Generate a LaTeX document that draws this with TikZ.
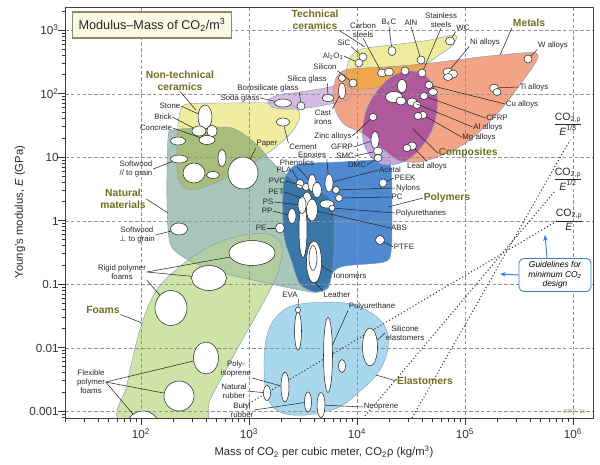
\documentclass[tikz,border=0pt]{standalone}
\usepackage{fontspec}
\usepackage{amsmath}
\setmainfont{Liberation Sans}
\usetikzlibrary{shapes.geometric,arrows.meta}

\definecolor{foamcol}{HTML}{CFE3A6}
\definecolor{natcol}{HTML}{A8C6BA}
\definecolor{foamnatcol}{HTML}{B2CDA0}
\definecolor{ntccol}{HTML}{F1EDA0}
\definecolor{ntcnatcol}{HTML}{A9BD7A}
\definecolor{glasscol}{HTML}{D8B9E2}
\definecolor{polcol}{HTML}{4F89CF}
\definecolor{polnatcol}{HTML}{3A77A8}
\definecolor{elacol}{HTML}{A9D7EE}
\definecolor{tccol}{HTML}{EEEC9C}
\definecolor{metcol}{HTML}{F3A486}
\definecolor{tcmetcol}{HTML}{EFA64C}
\definecolor{compcol}{HTML}{C9A6DA}
\definecolor{compmetcol}{HTML}{B0589C}
\definecolor{rimcol}{HTML}{7B9AC0}
\definecolor{grpcol}{HTML}{6E6F1E}
\definecolor{gblue}{HTML}{3D7CC9}
\definecolor{titleedge}{HTML}{8E8E66}
\definecolor{titlefill}{HTML}{FAFAE4}

\newcommand\foamreg{plot[smooth cycle, tension=0.6] coordinates {(121,422) (127,385) (135,348) (143,320) (151,300) (163,282) (183,264) (205,249) (228,239) (250,234) (272,235) (282,248) (277,275) (262,305) (245,335) (226,370) (210,400) (200,425)}}
\newcommand\natreg{plot[smooth cycle, tension=0.5] coordinates {(168,138) (173,130) (200,128) (232,128) (255,143) (275,165) (298,183) (322,192) (333,205) (334,250) (330,282) (318,292) (300,290) (262,282) (215,271) (185,258) (170,243) (167,200)}}
\newcommand\ntcreg{plot[smooth cycle, tension=0.5] coordinates {(180,112) (188,104) (230,103) (275,103) (294,106) (300,116) (292,132) (272,150) (245,168) (215,183) (190,190) (178,178) (177,140)}}
\newcommand\glassreg{plot[smooth cycle, tension=0.6] coordinates {(268,101) (278,95) (300,92) (325,88) (346,84) (352,92) (346,100) (320,106) (295,109) (275,108)}}
\newcommand\polreg{plot[smooth cycle, tension=0.5] coordinates {(283,190) (288,172) (300,164) (340,162) (384,160) (391,167) (392,215) (391,252) (384,262) (345,266) (333,272) (328,288) (315,292) (300,284) (292,262) (284,235)}}
\newcommand\elareg{plot[smooth cycle, tension=0.6] coordinates {(264,362) (268,332) (280,313) (300,304) (345,303) (373,314) (387,331) (387,353) (377,374) (358,393) (337,408) (306,415) (280,412) (267,396)}}
\newcommand\tcreg{plot[smooth cycle, tension=0.5] coordinates {(346,74) (350,58) (362,49) (400,44) (430,40) (455,35) (453,45) (435,58) (405,80) (375,88) (350,88)}}
\newcommand\metreg{plot[smooth cycle, tension=0.5] coordinates {(333,95) (336,112) (345,125) (362,133) (382,148) (398,160) (420,162) (445,154) (470,140) (498,113) (522,82) (537,60) (536,53) (520,53) (480,57) (440,62) (400,66) (365,68) (345,70) (336,78)}}
\newcommand\compreg{plot[smooth cycle, tension=0.6] coordinates {(421,73) (437,96) (431,132) (407,160) (379,163) (363,140) (369,104) (393,76)}}

\tikzset{
  lbl/.style={font=\fontsize{6.7}{7.6}\selectfont, align=center, inner sep=0.5pt, text=black!85},
  grp/.style={font=\fontsize{8.8}{10}\selectfont\bfseries, align=center, inner sep=0.5pt, text=grpcol},
  bub/.style 2 args={ellipse, draw=black!85, fill=white, line width=0.45pt, inner sep=0pt,
    minimum width=#1*0.3mm, minimum height=#2*0.3mm},
  leader/.style={line width=0.45pt, black!85},
  rim/.style={draw=rimcol, line width=0.35pt},
  gridln/.style={densely dashed, gray!85, line width=0.4pt},
  tk/.style={line width=0.5pt, black!80},
  guideln/.style={dotted, line width=0.9pt, black!80},
  ticklbl/.style={font=\fontsize{10}{12}\selectfont, inner sep=1pt, text=black!80},
  axtitle/.style={font=\fontsize{9.6}{11.5}\selectfont, inner sep=1pt, text=black!85},
  frac/.style={font=\fontsize{9}{10.5}\selectfont, inner sep=0.5pt, text=black!85},
  garrow/.style={-{Stealth[length=5pt, width=4pt]}, gblue, line width=0.8pt},
}

\begin{document}
\begin{tikzpicture}[x=0.3mm, y=-0.3mm]
\useasboundingbox (0,0) rectangle (600,464);

\begin{scope}
\clip (65,7) rectangle (593,418);
\fill[foamcol] \foamreg;
\fill[natcol] \natreg;
\begin{scope} \clip \natreg; \fill[foamnatcol] \foamreg; \end{scope}
\fill[ntccol] \ntcreg;
\begin{scope} \clip \natreg; \fill[ntcnatcol] \ntcreg; \end{scope}
\fill[glasscol] \glassreg;
\fill[polcol] \polreg;
\begin{scope} \clip \natreg; \fill[polnatcol] \polreg; \end{scope}
\fill[elacol] \elareg;
\fill[tccol] \tcreg;
\fill[metcol] \metreg;
\begin{scope} \clip \metreg; \fill[tcmetcol] \tcreg; \end{scope}
\fill[compcol] \compreg;
\begin{scope} \clip \metreg; \fill[compmetcol] \compreg; \end{scope}
\draw[rim] \foamreg;
\draw[rim] \natreg;
\draw[rim] \ntcreg;
\draw[rim] \glassreg;
\draw[rim] \polreg;
\draw[rim] \elareg;
\draw[rim] \tcreg;
\draw[rim] \metreg;
\draw[rim] \compreg;

\foreach \x in {141,249,357,465,573} \draw[gridln] (\x,7) -- (\x,418);
\foreach \y in {30,94,157,221,284,348,411} \draw[gridln] (65,\y) -- (593,\y);

\draw[guideln] (412,418) -- (570,140);
\draw[guideln] (365,416) -- (555,191);
\draw[guideln] (243,407) -- (557,221);

% bubbles
\node[bub={8}{8}] (sic) at (363,57) {};
\node[bub={8}{8}] (alo) at (359,63) {};
\node[bub={8}{8}] (silicon) at (353,83) {};
\node[bub={7}{7}] (sib) at (342,78) {};
\node[bub={7}{16}] (castiron) at (342,91) {};
\node[bub={9}{8}] (cs1) at (382,73) {};
\node[bub={9}{8}] (cs2) at (389,72) {};
\node[bub={8}{9}] (b4c) at (392,51) {};
\node[bub={8}{8}] (tcb) at (405,71) {};
\node[bub={8}{8}] (aln) at (421,60) {};
\node[bub={8}{8}] (ss) at (422,73) {};
\node[bub={9}{8}] (wc) at (450,41) {};
\node[bub={10}{8}] (ni1) at (448,72) {};
\node[bub={9}{8}] (ni2) at (453,74) {};
\node[bub={9}{7}] (ni3) at (448,77) {};
\node[bub={8}{8}] (wal) at (528,59) {};
\node[bub={9}{8}] (ti1) at (494,88) {};
\node[bub={8}{7}] (ti2) at (497,92) {};
\node[bub={8}{7}] (cu1) at (429,85) {};
\node[bub={9}{7}] (cu2) at (433,92) {};
\node[bub={8}{7}] (cfrp) at (424,96) {};
\node[bub={10}{8}] (al1) at (412,102) {};
\node[bub={8}{7}] (al2) at (417,105) {};
\node[bub={8}{7}] (mg1) at (423,115) {};
\node[bub={8}{7}] (mg2) at (418,116) {};
\node[bub={9}{8}] (lead1) at (412,146) {};
\node[bub={8}{7}] (lead2) at (407,148) {};
\node[bub={8}{7}] (zinc) at (373,117) {};
\node[bub={8}{17}] (gfrp) at (375,140) {};
\node[bub={9}{8}] (smc) at (378,151) {};
\node[bub={8}{7}] (dmc) at (378,158) {};
\node[bub={9}{13}] (cp1) at (402,86) {};
\node[bub={17}{11}] (cp2) at (394,97) {};
\node[bub={10}{8}] (cp3) at (401,101) {};
\node[bub={17}{8}] (soda) at (283,103) {};
\node[bub={8}{8}] (boro) at (301,106) {};
\node[bub={12}{7}] (silica) at (328,98) {};
\node[bub={14}{24}] (stone) at (205,117) {};
\node[bub={14}{10}] (brick) at (199,131) {};
\node[bub={10}{12}] (nb2) at (212,131) {};
\node[bub={16}{9}] (concrete) at (207,140) {};
\node[bub={13}{8}] (cement) at (283,122) {};
\node[bub={15}{8}] (nb3) at (178,141) {};
\node[bub={17}{8}] (sw1) at (179,159) {};
\node[bub={22}{20}] (nb4) at (194,173) {};
\node[bub={8}{17}] (nb5) at (222,158) {};
\node[bub={13}{7}] (nb6) at (213,175) {};
\node[bub={30}{32}] (paper) at (243,173) {};
\node[bub={17}{12}] (sw2) at (179,229) {};
\node[bub={8}{9}] (pla) at (300,184) {};
\node[bub={7}{7}] (pvc) at (306,187) {};
\node[bub={8}{17}] (phen) at (312,183) {};
\node[bub={9}{16}] (pet) at (307,200) {};
\node[bub={9}{15}] (pb1) at (317,190) {};
\node[bub={8}{55}] (ptall) at (303,230) {};
\node[bub={8}{17}] (ps) at (302,205) {};
\node[bub={11}{22}] (abs) at (312,210) {};
\node[bub={8}{15}] (pp) at (292,216) {};
\node[bub={9}{10}] (pe) at (280,228) {};
\node[bub={15}{42}] (ion) at (314,262) {};
\node[bub={8}{25}] (ion2) at (313,258) {};
\node[bub={8}{18}] (ep) at (329,183) {};
\node[bub={7}{7}] (nyl) at (336,190) {};
\node[bub={7}{7}] (pc) at (339,198) {};
\node[bub={14}{8}] (pu1) at (327,204) {};
\node[bub={6}{6}] (pu2) at (332,208) {};
\node[bub={8}{8}] (peek) at (383,183) {};
\node[bub={9}{9}] (ptfe) at (380,240) {};
\node[bub={7}{38}] (eva) at (298,331) {};
\node[bub={5}{6}] (evat) at (298,310) {};
\node[bub={9}{75}] (puel) at (328,355) {};
\node[bub={7}{13}] (eb1) at (342,366) {};
\node[bub={15}{38}] (sil) at (370,347) {};
\node[bub={8}{30}] (iso) at (285,387) {};
\node[bub={7}{15}] (nat) at (267,393) {};
\node[bub={7}{20}] (butyl) at (308,402) {};
\node[bub={8}{25}] (neo) at (321,405) {};
\node[bub={46}{25}] (f1) at (252,253) {};
\node[bub={35}{25}] (f2) at (209,278) {};
\node[bub={32}{35}] (f3) at (171,308) {};
\node[bub={25}{32}] (f4) at (206,358) {};
\node[bub={30}{30}] (f5) at (179,396) {};
\node[bub={32}{30}] (f6) at (143,426) {};
\end{scope}

% labels
\node[grp] (tcl) at (315,20) {Technical\\ceramics};
\node[lbl] (csl) at (363,30) {Carbon\\steels};
\node[lbl] (b4cl) at (389,22) {B\textsubscript{4}C};
\node[lbl] (alnl) at (411,23) {AlN};
\node[lbl] (ssl) at (441,20) {Stainless\\steels};
\node[lbl] (wcl) at (463,28) {WC};
\node[grp] (metl) at (529,23) {Metals};
\node[lbl] (nil) at (485,42) {Ni alloys};
\node[lbl] (wl) at (553,45) {W alloys};
\node[lbl] (til) at (534,87) {Ti alloys};
\node[lbl] (cul) at (522,104) {Cu alloys};
\node[lbl] (cfl) at (497,118) {CFRP};
\node[lbl] (all) at (488,127) {Al alloys};
\node[lbl] (mgl) at (479,137) {Mg alloys};
\node[grp] (compl) at (468,153) {Composites};
\node[lbl] (leadl) at (427,166) {Lead alloys};
\node[lbl] (sicl) at (344,43) {SiC};
\node[lbl] (alol) at (333,56) {Al\textsubscript{2}O\textsubscript{3}};
\node[lbl] (silil) at (325,67) {Silicon};
\node[lbl] (silical) at (307,79) {Silica glass};
\node[lbl] (borol) at (268,88) {Borosilicate glass};
\node[lbl] (sodal) at (240,98) {Soda glass};
\node[lbl] (castl) at (323,117) {Cast\\irons};
\node[lbl] (zincl) at (333,136) {Zinc alloys};
\node[lbl] (gfrpl) at (342,147) {GFRP};
\node[lbl] (smcl) at (345,156) {SMC};
\node[lbl] (dmcl) at (357,165) {DMC};
\node[lbl] (epl) at (312,155) {Epoxies};
\node[lbl] (phl) at (297,163) {Phenolics};
\node[lbl] (plal) at (284,170) {PLA};
\node[lbl] (pvcl) at (277,181) {PVC};
\node[lbl] (petl) at (276,192) {PET};
\node[lbl] (psl) at (268,202) {PS};
\node[lbl] (ppl) at (267,211) {PP};
\node[lbl] (pel) at (261,228) {PE};
\node[lbl] (acel) at (390,170) {Acetal};
\node[lbl] (peekl) at (405,178) {PEEK};
\node[lbl] (nyll) at (408,188) {Nylons};
\node[lbl] (pcl) at (397,197) {PC};
\node[lbl] (purl) at (421,213) {Polyurethanes};
\node[lbl] (absl) at (399,228) {ABS};
\node[lbl] (ptfel) at (404,247) {PTFE};
\node[grp] (poll) at (447,198) {Polymers};
\node[lbl] (ionl) at (350,276) {Ionomers};
\node[lbl] (leal) at (337,295) {Leather};
\node[grp] (ntcl) at (180,81) {Non-technical\\ceramics};
\node[lbl] (stonel) at (170,106) {Stone};
\node[lbl] (brickl) at (163,117) {Brick};
\node[lbl] (concl) at (156,128) {Concrete};
\node[lbl] (paperl) at (267,144) {Paper};
\node[lbl] (cementl) at (303,147) {Cement};
\node[lbl] (sw1l) at (136,169) {Softwood\\// to grain};
\node[grp] (natl) at (123,199) {Natural\\materials};
\node[lbl] (sw2l) at (137,235) {Softwood\\$\perp$ to grain};
\node[lbl] (rigl) at (122,272) {Rigid polymer\\foams};
\node[grp] (foaml) at (103,310) {Foams};
\node[lbl] (flexl) at (91,382) {Flexible\\polymer\\foams};
\node[lbl] (eval) at (290,295) {EVA};
\node[lbl] (pul) at (372,306) {Polyurethane};
\node[lbl] (sill) at (405,333) {Silicone\\elastomers};
\node[lbl] (isol) at (236,369) {Poly-\\isoprene};
\node[lbl] (nrl) at (234,391) {Natural\\rubber};
\node[lbl] (bul) at (242,410) {Butyl\\rubber};
\node[lbl] (neol) at (381,407) {Neoprene};
\node[grp] (elal) at (425,381) {Elastomers};
\node[lbl, font=\fontsize{5}{6}\selectfont, text=titleedge] (mfa) at (575,411) {MFA '11};

\node[frac] (fr3) at (568,124) {$\dfrac{\text{CO}_{\text{2,ρ}}}{\text{\itshape E}^{\text{1/3}}}$};
\node[frac] (fr2) at (568,179) {$\dfrac{\text{CO}_{\text{2,ρ}}}{\text{\itshape E}^{\text{1/2}}}$};
\node[frac] (fr1) at (569,220) {$\dfrac{\text{CO}_{\text{2,ρ}}}{\text{\itshape E}}$};

\node[draw=gblue, line width=0.7pt, fill=white, rounded corners=4pt, align=center,
  minimum width=21.6mm, minimum height=9.9mm, inner sep=1pt,
  font=\fontsize{7.2}{8.3}\selectfont\itshape] (gbox) at (555,275)
  {Guidelines for\\minimum CO\textsubscript{2}\\design};
\coordinate (gt1) at (545,235);
\coordinate (gt2) at (500,274);
\draw[garrow] ([xshift=-2.4mm]gbox.north) -- (gt1);
\draw[garrow] (gbox.west) -- (gt2);

% free ends
\coordinate (tcend) at (365,47);
\coordinate (metend) at (500,55);
\coordinate (compend) at (413,129);
\coordinate (polend) at (388,207);
\coordinate (leaend) at (315,282);
\coordinate (ntcend) at (196,110);
\coordinate (natend) at (168,213);
\coordinate (foamend) at (142,323);
\coordinate (elaend) at (376,375);

\draw[leader] (tcl.south east) -- (tcend);
\draw[leader] (csl.south) -- (cs1);
\draw[leader] (b4cl.south) -- (b4c);
\draw[leader] (alnl.south) -- (aln);
\draw[leader] (ssl.south) -- (ss);
\draw[leader] (wcl.south west) -- (wc);
\draw[leader] (metl.south west) -- (metend);
\draw[leader] (nil.south west) -- (ni1);
\draw[leader] (wl.south west) -- (wal);
\draw[leader] (til.west) -- (ti1);
\draw[leader] (cul.west) -- (cu1);
\draw[leader] (cfl.west) -- (cfrp);
\draw[leader] (all.west) -- (al1);
\draw[leader] (mgl.west) -- (mg1);
\draw[leader] (compl.west) -- (compend);
\draw[leader] (leadl.north) -- (lead1);
\draw[leader] (sicl.south east) -- (sic);
\draw[leader] (alol.east) -- (alo);
\draw[leader] (silil.south east) -- (silicon);
\draw[leader] (silical.south east) -- (silica);
\draw[leader] (borol.south east) -- (boro);
\draw[leader] (sodal.east) -- (soda);
\draw[leader] (castl.north east) -- (castiron);
\draw[leader] (zincl.east) -- (zinc);
\draw[leader] (gfrpl.east) -- (gfrp);
\draw[leader] (smcl.east) -- (smc);
\draw[leader] (dmcl.east) -- (dmc);
\draw[leader] (epl.south east) -- (ep);
\draw[leader] (phl.south) -- (phen);
\draw[leader] (plal.east) -- (pla);
\draw[leader] (pvcl.east) -- (pvc);
\draw[leader] (petl.east) -- (pet);
\draw[leader] (psl.east) -- (ps);
\draw[leader] (ppl.east) -- (pp);
\draw[leader] (pel.east) -- (pe);
\draw[leader] (acel.west) -- (ep);
\draw[leader] (peekl.west) -- (peek);
\draw[leader] (nyll.west) -- (nyl);
\draw[leader] (pcl.west) -- (pc);
\draw[leader] (purl.west) -- (pu2);
\draw[leader] (absl.west) -- (abs);
\draw[leader] (ptfel.west) -- (ptfe);
\draw[leader] (poll.west) -- (polend);
\draw[leader] (ionl.north west) -- (ion);
\draw[leader] (leal.north west) -- (leaend);
\draw[leader] (ntcl.south) -- (ntcend);
\draw[leader] (stonel.east) -- (stone);
\draw[leader] (brickl.east) -- (brick);
\draw[leader] (concl.east) -- (concrete);
\draw[leader] (paperl.south west) -- (paper);
\draw[leader] (cementl.north west) -- (cement);
\draw[leader] (sw1l.east) -- (sw1);
\draw[leader] (natl.east) -- (natend);
\draw[leader] (sw2l.east) -- (sw2);
\draw[leader] (rigl.east) -- (f1);
\draw[leader] (rigl.east) -- (f2);
\draw[leader] (rigl.south east) -- (f3);
\draw[leader] (foaml.south east) -- (foamend);
\draw[leader] (flexl.east) -- (f4);
\draw[leader] (flexl.east) -- (f5);
\draw[leader] (flexl.east) -- (f6);
\draw[leader] (eval.south east) -- (evat);
\draw[leader] (pul.south west) -- (puel);
\draw[leader] (sill.west) -- (sil);
\draw[leader] (isol.south east) -- (iso);
\draw[leader] (nrl.east) -- (nat);
\draw[leader] (bul.east) -- (butyl);
\draw[leader] (neol.west) -- (neo);
\draw[leader] (elal.west) -- (elaend);

% axes
\draw[line width=0.6pt, black!75] (65,7) rectangle (593,418);
\begin{scope}
\clip (40,6.5) rectangle (65.5,418.5);
\foreach \d in {-4,...,3}{
  \draw[tk] (58,{30+63.5*(3-\d)}) -- (65,{30+63.5*(3-\d)});
  \foreach \k in {2,...,9}
    \draw[tk] (61.5,{30+63.5*(3-\d-log10(\k))}) -- (65,{30+63.5*(3-\d-log10(\k))});
}
\end{scope}
\begin{scope}
\clip (64.5,417.5) rectangle (593.5,430);
\foreach \d in {1,...,6}{
  \draw[tk] ({141+108*(\d-2)},418) -- ({141+108*(\d-2)},425);
  \foreach \k in {2,...,9}
    \draw[tk] ({141+108*(\d-2+log10(\k))},418) -- ({141+108*(\d-2+log10(\k))},422);
}
\end{scope}
\foreach \y/\t [count=\i] in {30/10\textsuperscript{3}, 94/10\textsuperscript{2}, 157/10, 221/1, 284/0.1, 348/0.01, 411/0.001}
  \node[ticklbl, anchor=east] (yt\i) at (60,\y) {\t};
\foreach \x/\e [count=\i] in {141/2, 249/3, 357/4, 465/5, 573/6}
  \node[ticklbl, anchor=north] (xt\i) at (\x,427) {10\textsuperscript{\e}};
\node[axtitle, rotate=90] (ytitle) at (20,212) {Young's modulus, \textit{E} (GPa)};
\node[axtitle] (xtitle) at (324,452) {Mass of CO\textsubscript{2} per cubic meter, CO\textsubscript{2}ρ (kg/m\textsuperscript{3})};

\node[draw=titleedge, line width=1.2pt, fill=titlefill, minimum width=47.7mm, minimum height=7.8mm,
  font=\fontsize{10.8}{13}\selectfont, text=black!85] (title) at (152,25)
  {Modulus–Mass of CO\textsubscript{2}/m\textsuperscript{3}};
\end{tikzpicture}
\end{document}
